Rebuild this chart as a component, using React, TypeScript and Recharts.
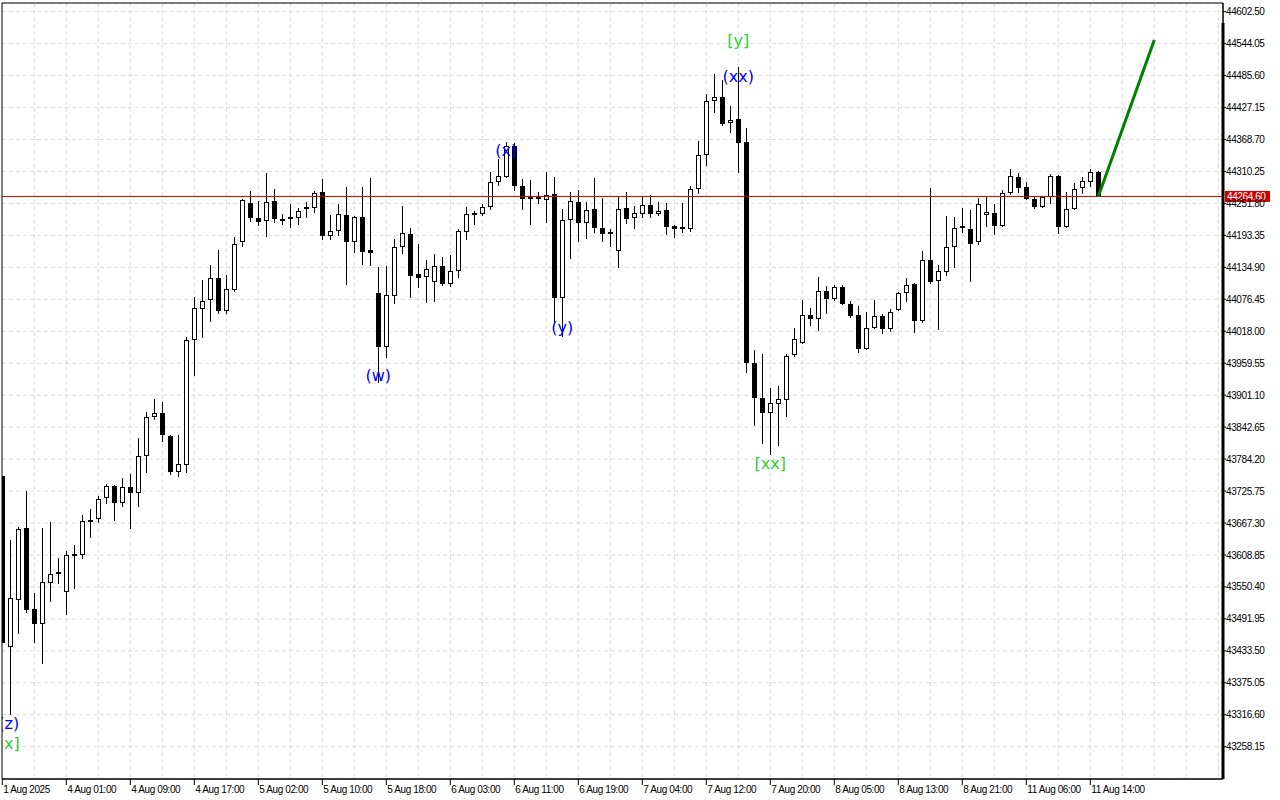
import React from 'react';
import {
  ComposedChart,
  Bar,
  Line,
  Scatter,
  XAxis,
  YAxis,
  CartesianGrid,
  ReferenceLine,
  ReferenceArea,
} from 'recharts';

// hourly candles, 1 Aug 2025 -> 11 Aug 15:00
const opens = [
  43753.3, 43440.5, 43526.5, 43658.2, 43510.0, 43482.6, 43557.6, 43575.9, 43541.1, 43608.8,
  43608.8, 43671.0, 43674.6, 43713.1, 43735.0, 43703.9, 43733.2, 43722.2, 43789.9, 43861.2,
  43868.5, 43826.5, 43760.6, 43773.4, 44002.0, 44058.7, 44075.2, 44115.4, 44055.1, 44093.5,
  44181.3, 44252.6, 44225.2, 44219.7, 44256.3, 44223.3, 44225.2, 44225.2, 44243.5, 44243.5,
  44272.7, 44192.3, 44201.4, 44230.7, 44181.3, 44227.0, 44166.7, 44088.0, 43989.2, 44082.5,
  44172.1, 44195.9, 44122.8, 44117.3, 44108.1, 44137.4, 44104.5, 44128.2, 44199.6, 44232.0,
  44232.5, 44245.3, 44291.0, 44300.2, 44356.9, 44283.7, 44261.8, 44261.8, 44258.1, 44269.1,
  44078.9, 44221.5, 44254.4, 44216.0, 44241.6, 44206.9, 44197.7, 44164.8, 44243.5, 44225.2,
  44232.5, 44249.0, 44232.5, 44239.8, 44210.5, 44205.1, 44205.1, 44278.2, 44340.4, 44439.2,
  44446.5, 44398.9, 44406.3, 44364.2, 43960.0, 43896.0, 43868.5, 43885.0, 43892.3, 43974.6,
  43996.6, 44047.8, 44040.5, 44091.7, 44077.0, 44099.0, 44067.9, 44047.8, 43985.6, 44024.0,
  44045.9, 44022.2, 44056.9, 44088.0, 44104.5, 44036.8, 44148.4, 44110.0, 44126.4, 44172.1,
  44206.9, 44205.1, 44181.3, 44230.7, 44234.3, 44210.5, 44270.9, 44300.2, 44281.9, 44259.9,
  44245.3, 44263.6, 44302.0, 44208.7, 44241.6, 44280.1, 44291.0, 44309.3,
];

const highs = [
  43753.3, 43636.2, 43660.0, 43725.9, 43539.3, 43658.2, 43669.2, 43603.3, 43616.1, 43627.1,
  43682.0, 43692.9, 43716.7, 43738.7, 43736.8, 43749.6, 43757.0, 43822.8, 43870.4, 43894.1,
  43888.6, 43828.3, 43828.3, 44007.5, 44080.7, 44111.8, 44139.2, 44166.7, 44120.9, 44190.4,
  44259.9, 44274.6, 44256.3, 44307.5, 44278.2, 44232.5, 44250.8, 44243.5, 44254.4, 44274.6,
  44296.5, 44230.7, 44250.8, 44281.9, 44228.8, 44281.9, 44298.3, 44135.6, 44137.4, 44186.8,
  44247.1, 44206.9, 44177.6, 44148.4, 44159.3, 44153.9, 44157.5, 44205.1, 44245.3, 44238.0,
  44250.8, 44309.3, 44333.1, 44364.2, 44362.4, 44296.5, 44294.7, 44272.7, 44309.3, 44300.2,
  44241.6, 44272.7, 44276.4, 44254.4, 44298.3, 44261.8, 44205.1, 44263.6, 44272.7, 44247.1,
  44265.4, 44267.2, 44254.4, 44252.6, 44212.4, 44252.6, 44283.7, 44366.0, 44452.0, 44488.6,
  44477.6, 44430.0, 44501.4, 44389.8, 43983.8, 43976.4, 43914.3, 43917.9, 43976.4, 44024.0,
  44075.2, 44060.6, 44117.3, 44100.8, 44102.6, 44102.6, 44073.4, 44064.2, 44053.3, 44075.2,
  44049.6, 44058.7, 44089.8, 44115.4, 44106.3, 44164.8, 44280.1, 44139.2, 44228.8, 44227.0,
  44243.5, 44239.8, 44261.8, 44263.6, 44250.8, 44276.4, 44314.8, 44307.5, 44291.0, 44263.6,
  44265.4, 44305.7, 44303.8, 44272.7, 44289.2, 44300.2, 44314.8, 44311.1,
];

const lows = [
  43447.9, 43316.2, 43464.3, 43502.7, 43447.9, 43409.4, 43522.8, 43555.8, 43499.1, 43546.6,
  43601.5, 43639.9, 43667.3, 43702.1, 43671.0, 43696.6, 43656.4, 43696.6, 43758.8, 43855.7,
  43815.5, 43755.1, 43751.5, 43758.8, 43936.2, 44005.7, 44035.0, 44049.6, 44049.6, 44089.8,
  44172.1, 44217.9, 44210.5, 44190.4, 44216.0, 44212.4, 44206.9, 44212.4, 44225.2, 44234.3,
  44184.9, 44184.9, 44192.3, 44102.6, 44161.2, 44139.2, 44137.4, 43923.4, 43969.1, 44067.9,
  44159.3, 44078.9, 44097.2, 44069.7, 44071.5, 44100.8, 44099.0, 44115.4, 44184.9, 44212.4,
  44228.8, 44239.8, 44283.7, 44298.3, 44274.6, 44239.8, 44212.4, 44250.8, 44216.0, 44033.1,
  44007.5, 44150.2, 44181.3, 44186.8, 44197.7, 44181.3, 44172.1, 44133.7, 44214.2, 44205.1,
  44225.2, 44225.2, 44228.8, 44194.1, 44188.6, 44197.7, 44199.6, 44269.1, 44320.3, 44417.2,
  44393.4, 44380.6, 44307.5, 43941.7, 43844.8, 43811.8, 43791.7, 43808.2, 43861.2, 43971.0,
  43994.7, 44027.6, 44018.5, 44049.6, 44073.4, 44066.1, 44042.3, 43978.3, 43983.8, 44022.2,
  44013.0, 44016.7, 44055.1, 44071.5, 44014.8, 44033.1, 44104.5, 44020.3, 44119.1, 44133.7,
  44197.7, 44108.1, 44175.8, 44208.7, 44194.1, 44208.7, 44267.2, 44270.9, 44258.1, 44241.6,
  44243.5, 44250.8, 44195.9, 44206.9, 44239.8, 44269.1, 44281.9, 44264.0,
];

const closes = [
  43447.9, 43530.2, 43656.4, 43508.2, 43482.6, 43559.4, 43574.1, 43574.1, 43608.8, 43607.0,
  43671.0, 43669.2, 43711.2, 43735.0, 43703.9, 43733.2, 43722.2, 43789.9, 43861.2, 43868.5,
  43828.3, 43760.6, 43775.2, 44002.0, 44060.6, 44073.4, 44115.4, 44055.1, 44095.3, 44177.6,
  44258.1, 44225.2, 44217.9, 44254.4, 44223.3, 44219.7, 44223.3, 44238.0, 44241.6, 44270.9,
  44192.3, 44201.4, 44232.5, 44181.3, 44227.0, 44163.0, 44161.2, 43989.2, 44084.3, 44172.1,
  44197.7, 44119.1, 44115.4, 44131.9, 44137.4, 44104.5, 44128.2, 44201.4, 44232.5, 44233.0,
  44245.3, 44291.0, 44302.0, 44356.9, 44283.7, 44259.9, 44259.9, 44259.9, 44267.2, 44078.9,
  44221.5, 44256.3, 44216.0, 44239.8, 44206.9, 44195.9, 44195.9, 44241.6, 44223.3, 44234.3,
  44249.0, 44232.5, 44238.0, 44208.7, 44205.1, 44206.0, 44278.2, 44340.4, 44439.2, 44446.5,
  44397.1, 44404.4, 44362.4, 43960.0, 43896.0, 43868.5, 43886.8, 43894.1, 43972.8, 44003.9,
  44047.8, 44040.5, 44091.7, 44077.0, 44099.0, 44067.9, 44045.9, 43985.6, 44024.0, 44045.9,
  44022.2, 44053.3, 44088.0, 44102.6, 44036.8, 44148.4, 44108.1, 44128.2, 44172.1, 44206.9,
  44207.9, 44177.6, 44250.8, 44236.2, 44210.5, 44270.9, 44302.0, 44280.1, 44259.9, 44245.3,
  44263.6, 44302.0, 44208.7, 44241.6, 44278.2, 44292.9, 44309.3, 44264.6,
];

const xTickIdx = [0, 8, 16, 24, 32, 40, 48, 56, 64, 72, 80, 88, 96, 104, 112, 120, 128, 136];
const xTickLabels = [
  '1 Aug 2025', '4 Aug 01:00', '4 Aug 09:00', '4 Aug 17:00', '5 Aug 02:00', '5 Aug 10:00',
  '5 Aug 18:00', '6 Aug 03:00', '6 Aug 11:00', '6 Aug 19:00', '7 Aug 04:00', '7 Aug 12:00',
  '7 Aug 20:00', '8 Aug 05:00', '8 Aug 13:00', '8 Aug 21:00', '11 Aug 06:00', '11 Aug 14:00',
];

const priceTicks = [
  43258.15, 43316.6, 43375.05, 43433.5, 43491.95, 43550.4, 43608.85, 43667.3, 43725.75,
  43784.2, 43842.65, 43901.1, 43959.55, 44018.0, 44076.45, 44134.9, 44193.35, 44251.8,
  44310.25, 44368.7, 44427.15, 44485.6, 44544.05, 44602.5,
];

const lastPrice = 44264.6;

// forecast line drawn from the last close
const projIdx = [137, 144];
const projPrice = [44264.6, 44550.7];

const BLUE = '#0000ff';
const GREEN = '#32cd32';
const waveText = ['(z)', '[x]', '(w)', '(x)', '(y)', '(xx)', '[y]', '[xx]'];
const waveIdx = [0.8, 0.8, 47, 63, 70, 92, 92, 96];
const wavePrice = [43301.5, 43265.0, 43938.0, 44349.5, 44025.8, 44484.9, 44550.7, 43777.1];
const waveColor = [BLUE, GREEN, BLUE, BLUE, BLUE, BLUE, GREEN, GREEN];

const X_MIN = -0.0375;
const X_MAX = 152.5875;
const Y_MIN = 43199.1;
const Y_MAX = 44618.4;

const candles = opens.map((o, i) => ({ i, o, h: highs[i], l: lows[i], c: closes[i] }));
const projection = projIdx.map((i, k) => ({ i, p: projPrice[k] }));
const waves = waveText.map((text, k) => ({ i: waveIdx[k], p: wavePrice[k], text, color: waveColor[k], k }));
const gridIdx = Array.from({ length: 38 }, (_, k) => (k + 1) * 4);

const AXIS_FONT = 'Liberation Sans, Arial, sans-serif';

const Candle = (props: any) => {
  const { x, y, width, height, payload } = props;
  if (!payload || payload.h == null) return null;
  const { o, h, l, c } = payload;
  const top = Math.min(y, y + height);
  const span = Math.abs(height);
  const toY = (v: number) => (h === l ? top : top + ((h - v) / (h - l)) * span);
  const cx = Math.floor(x + width / 2) + 0.5;
  const yo = Math.round(toY(o));
  const yc = Math.round(toY(c));
  const bTop = Math.min(yo, yc);
  const bBot = Math.max(yo, yc);
  let body;
  if (bBot - bTop < 2) {
    body = <rect x={cx - 2.5} y={bTop - 1} width={5} height={2} fill="#000" />;
  } else if (c > o) {
    body = (
      <rect x={cx - 2} y={bTop + 0.5} width={4} height={bBot - bTop - 1} fill="#fff" stroke="#000" strokeWidth={1} />
    );
  } else {
    body = <rect x={cx - 2.5} y={bTop} width={5} height={bBot - bTop} fill="#000" />;
  }
  return (
    <g shapeRendering="crispEdges">
      <line x1={cx} x2={cx} y1={Math.round(top)} y2={Math.round(top + span)} stroke="#000" strokeWidth={1} />
      {body}
    </g>
  );
};

// wave labels, clipped to the plot's left edge like the terminal does
const WaveLabel = (props: any) => {
  const { cx, cy, payload } = props;
  const id = `wave-clip-${payload.k}`;
  return (
    <g>
      <defs>
        <clipPath id={id}>
          <rect x={2} y={0} width={1221} height={779} />
        </clipPath>
      </defs>
      <text
        x={cx}
        y={cy}
        dy="0.36em"
        textAnchor="middle"
        fill={payload.color}
        fontSize={16}
        fontFamily="DejaVu Sans, sans-serif"
        clipPath={`url(#${id})`}
      >
        {payload.text}
      </text>
    </g>
  );
};

const XTick = (props: any) => {
  const { x, y, payload } = props;
  const label = xTickLabels[xTickIdx.indexOf(payload.value)];
  return (
    <text x={x + 1} y={y} dy="0.71em" textAnchor="start" fill="#000" fontSize={10} fontFamily={AXIS_FONT} letterSpacing={-0.4}>
      {label}
    </text>
  );
};

const PriceTag = (props: any) => {
  const { viewBox } = props;
  if (!viewBox) return null;
  const x = viewBox.x + viewBox.width + 2;
  const y = viewBox.y;
  return (
    <g>
      <rect x={x} y={y - 5.5} width={45} height={11} fill="#cc0000" />
      <text x={x + 2} y={y} dy="0.355em" fill="#fff" fontSize={10} fontFamily={AXIS_FONT} letterSpacing={-0.4}>
        {lastPrice.toFixed(2)}
      </text>
    </g>
  );
};

export default function App() {
  return (
    <div style={{ position: 'absolute', left: 0, top: 0, width: 1280, height: 800, background: '#fff' }}>
      <ComposedChart width={1280} height={800} data={candles} margin={{ top: 3, right: 0, bottom: 0, left: 2 }}>
        <CartesianGrid stroke="#dcdcdc" strokeDasharray="4 3" verticalValues={gridIdx} />
        <XAxis
          type="number"
          dataKey="i"
          domain={[X_MIN, X_MAX]}
          allowDataOverflow
          ticks={xTickIdx}
          interval={0}
          tick={<XTick />}
          tickSize={6}
          tickMargin={1}
          height={21}
          axisLine={{ stroke: '#000' }}
          tickLine={{ stroke: '#000' }}
        />
        <YAxis
          orientation="right"
          type="number"
          domain={[Y_MIN, Y_MAX]}
          allowDataOverflow
          ticks={priceTicks}
          interval={0}
          tickFormatter={(v: number) => v.toFixed(2)}
          tick={{ fontSize: 10, fontFamily: AXIS_FONT, fill: '#000', letterSpacing: -0.4 }}
          tickSize={3}
          tickMargin={0}
          width={57}
          axisLine={{ stroke: '#000' }}
          tickLine={{ stroke: '#000' }}
        />
        <ReferenceArea x1={X_MIN} x2={X_MAX} y1={Y_MIN} y2={Y_MAX} fill="none" stroke="#000" strokeWidth={1} ifOverflow="visible" />
        <ReferenceLine
          segment={[{ x: X_MAX, y: 44581.8 }, { x: X_MAX, y: Y_MIN }]}
          stroke="#000"
          strokeWidth={3}
          ifOverflow="visible"
        />
        <ReferenceLine y={lastPrice} stroke="#cc0000" strokeWidth={1} label={<PriceTag />} />
        <Bar dataKey={(d: any) => [d.l, d.h]} shape={<Candle />} barSize={5} isAnimationActive={false} />
        <Line
          data={projection}
          dataKey="p"
          stroke="#008000"
          strokeWidth={3}
          dot={false}
          activeDot={false}
          isAnimationActive={false}
        />
        <Scatter data={waves} dataKey="p" shape={<WaveLabel />} isAnimationActive={false} />
      </ComposedChart>
    </div>
  );
}
